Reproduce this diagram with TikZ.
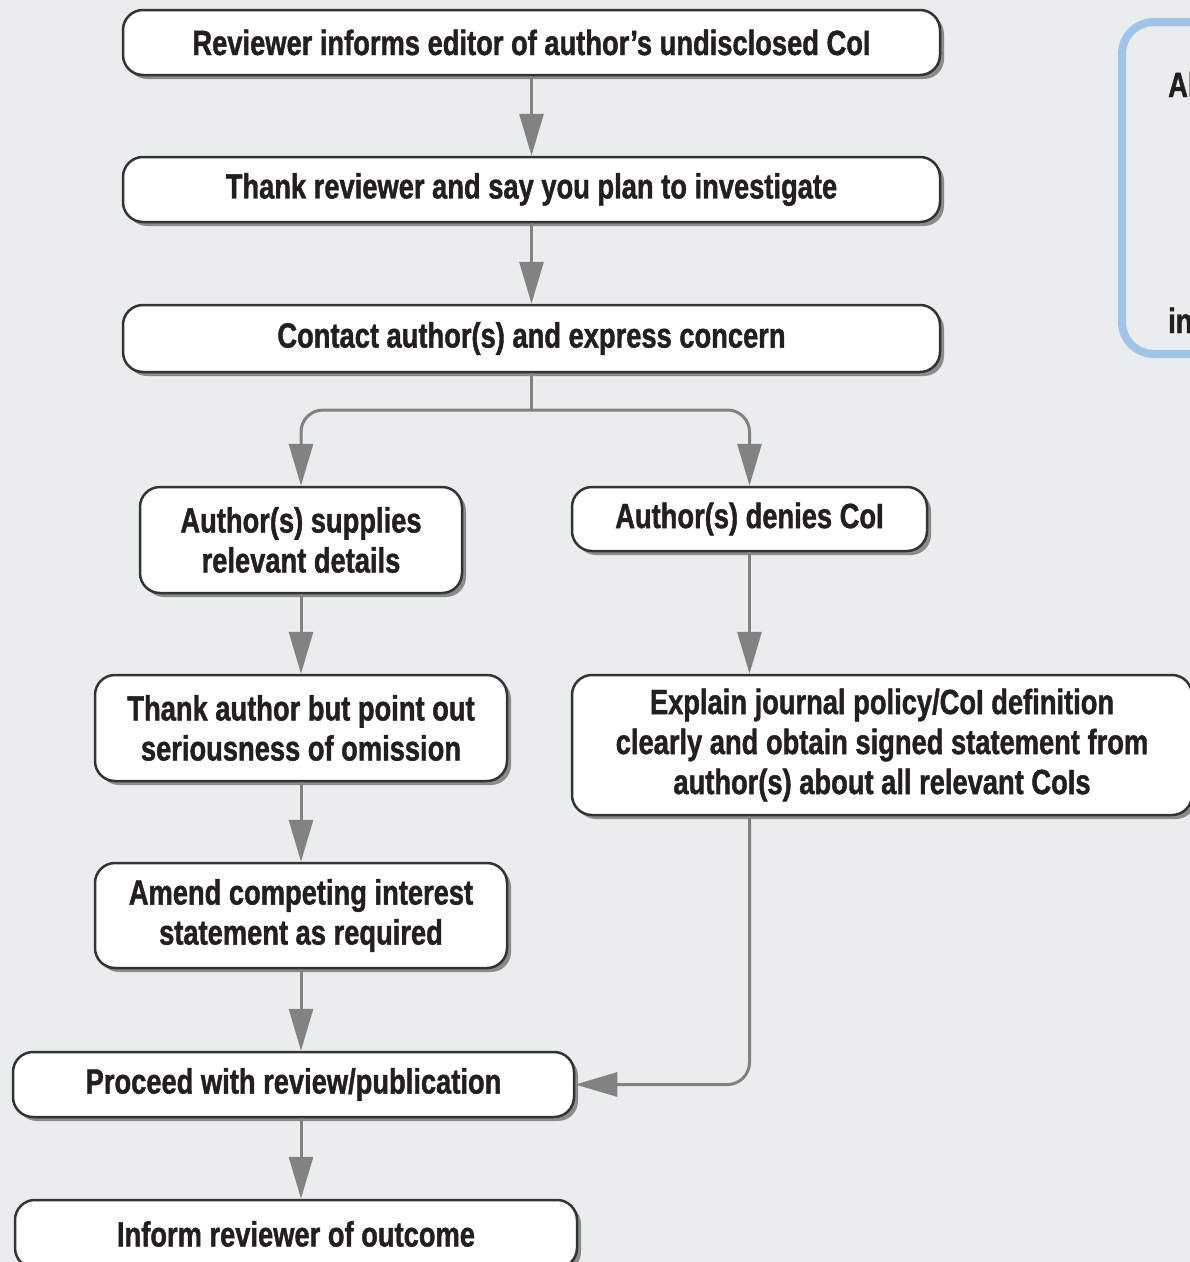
\documentclass[tikz,border=0pt]{standalone}
\usepackage{fontspec}
\setmainfont{Liberation Sans}[FakeStretch=0.78]
\usetikzlibrary{arrows.meta,shadows}
\definecolor{bg}{HTML}{E9EDED}
\definecolor{arr}{HTML}{828282}
\definecolor{txt}{HTML}{231F20}
\definecolor{bord}{HTML}{333333}
\definecolor{blu}{HTML}{9FC4E8}
\newfontfamily\heavyfont{Liberation Sans Bold}[FakeStretch=0.78,FakeBold=1.2]
\begin{document}
\begin{tikzpicture}[x=1pt,y=-1pt,
  box/.style={draw=bord, line width=2.5pt, fill=white, rounded corners=20pt,
    align=center, font=\heavyfont\fontsize{35}{40}\selectfont, text=txt, inner sep=0pt,
    drop shadow={shadow xshift=4pt, shadow yshift=-4pt, fill=black!55, opacity=0.8}},
  conn/.style={draw=arr, line width=3pt, -{Triangle[length=42pt,width=24pt]}, rounded corners=22pt},
  stem/.style={draw=arr, line width=3pt},
  frag/.style={font=\heavyfont\fontsize{35}{40}\selectfont, text=txt, inner sep=0pt, anchor=base west}]
\fill[bg] (0,0) rectangle (1190,1262);
\useasboundingbox (0,0) rectangle (1190,1262);
% right blue box (cut off)
\draw[blu, line width=8pt, rounded corners=32pt] (1260,22) -- (1122,22) -- (1122,354) -- (1260,354);
\node[frag] (fa) at (1168,97) {Al};
\node[frag] (fi) at (1168,333) {in};
% nodes
\node[box, minimum width=817pt, minimum height=65pt] (b1) at (531.5,42.5) {Reviewer informs editor of author’s undisclosed CoI};
\node[box, minimum width=817pt, minimum height=65pt] (b2) at (531.5,189.5) {Thank reviewer and say you plan to investigate};
\node[box, minimum width=817pt, minimum height=67pt] (b3) at (531.5,338.5) {Contact author(s) and express concern};
\node[box, minimum width=322pt, minimum height=106pt] (b4) at (301,540) {Author(s) supplies\\relevant details};
\node[box, minimum width=355pt, minimum height=64pt] (b5) at (749.5,519) {Author(s) denies CoI};
\node[box, minimum width=412pt, minimum height=106pt] (b6) at (301,728) {Thank author but point out\\seriousness of omission};
\node[box, minimum width=620pt, minimum height=140pt] (b7) at (882,745) {Explain journal policy/CoI definition\\clearly and obtain signed statement from\\author(s) about all relevant CoIs};
\node[box, minimum width=412pt, minimum height=105pt] (b8) at (301,915.5) {Amend competing interest\\statement as required};
\node[box, minimum width=561pt, minimum height=65pt] (b9) at (293.5,1084.5) {Proceed with review/publication};
\node[box, minimum width=562pt, minimum height=68pt] (b10) at (296,1234) {Inform reviewer of outcome};
% connectors
\coordinate (split) at (531.5,410);
\draw[conn] (b1) -- (b2);
\draw[conn] (b2) -- (b3);
\draw[stem] (b3.south) -- (split);
\draw[conn, {Triangle[length=42pt,width=24pt]}-{Triangle[length=42pt,width=24pt]}] (b4.north) |- (split) -| (b5.north);
\draw[conn] (b4.south) -- (b6.north);
\draw[conn] (b6.south) -- (b8.north);
\draw[conn] (b8.south) -- (b8.south |- b9.north);
\draw[conn] (b8.south |- b9.south) -- (b8.south |- b10.north);
\draw[conn] (b5.south) -- (b5.south |- b7.north);
\draw[conn] (b5.south |- b7.south) |- (b9.east);
\end{tikzpicture}
\end{document}
